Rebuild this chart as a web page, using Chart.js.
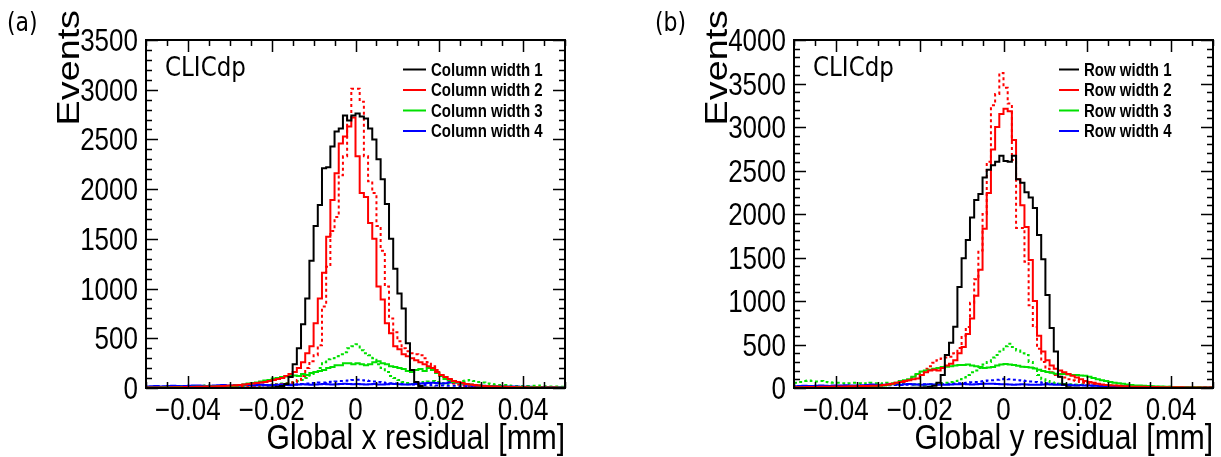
<!DOCTYPE html>
<html>
<head>
<meta charset="utf-8">
<script src="https://cdn.jsdelivr.net/npm/chart.js@4.4.1/dist/chart.umd.min.js"></script>
<style>
  html, body { margin: 0; padding: 0; background: #fff; }
  #wrap { position: relative; width: 1221px; height: 457px; overflow: hidden; }
  canvas { position: absolute; top: 0; }
  #chartA { left: 0; }
  #chartB { left: 648px; }
</style>
</head>
<body>
<div id="wrap">
  <canvas id="chartA" width="600" height="457"></canvas>
  <canvas id="chartB" width="573" height="457"></canvas>
</div>
<script>
// Histogram binning: 100 bins from -0.05 to 0.05 mm
const xMin = -0.05, xMax = 0.05, binCount = 100;

// Axis ticks
const xTickValues = [-0.04, -0.02, 0, 0.02, 0.04];
const xTickLabels = ['\u22120.04', '\u22120.02', '0', '0.02', '0.04'];
const yTicksA = [0, 500, 1000, 1500, 2000, 2500, 3000, 3500];
const yTicksB = [0, 500, 1000, 1500, 2000, 2500, 3000, 3500, 4000];

// (a) Global x residual - column widths (solid)
const colW1 = [
  0,0,0,0,0,0,0,0,0,0,
  0,0,0,0,0,0,0,0,0,0,
  0,0,0,0,0,1,1,2,3,5,
  8,12,20,40,110,240,400,640,900,1280,
  1630,1840,2210,2220,2430,2580,2610,2740,2690,2740,
  2760,2730,2710,2610,2500,2300,2100,1850,1500,1200,
  950,800,450,180,60,20,6,3,2,1,
  0,0,0,0,0,0,0,0,0,0,
  0,0,0,0,0,0,0,0,0,0,
  0,0,0,0,0,0,0,0,0,0
];
const colW2 = [
  5,5,5,5,6,6,7,8,8,9,
  10,10,12,12,14,15,16,18,20,22,
  25,28,30,35,40,45,50,55,60,70,
  80,90,100,120,140,160,200,260,350,420,
  650,900,1160,1520,1890,2160,2460,2530,2630,2720,
  2330,1960,1920,1660,1500,1020,890,650,550,420,
  390,340,320,300,280,260,240,220,200,160,
  130,110,90,70,60,50,40,35,30,25,
  20,18,15,14,12,12,10,10,8,8,
  7,6,6,5,5,5,4,4,3,3
];
const colW3 = [
  5,5,6,6,7,8,8,9,10,10,
  11,12,12,13,14,15,16,17,18,19,
  20,25,30,35,45,50,55,65,75,80,
  95,100,110,115,120,125,120,140,130,150,
  160,170,180,200,210,230,230,250,250,240,
  250,240,230,240,260,270,250,240,220,210,
  200,190,170,160,180,190,170,200,180,150,
  120,90,80,60,55,45,40,35,30,25,
  20,18,16,15,14,12,12,10,10,9,
  8,8,7,7,6,6,5,5,5,4
];
const colW4 = [
  15,18,20,16,18,20,22,20,18,20,
  22,25,24,22,20,22,25,28,30,26,
  25,28,30,32,30,28,32,35,30,28,
  30,32,35,30,28,32,35,38,35,32,
  35,38,40,38,35,38,40,42,40,38,
  40,38,35,38,40,36,34,38,42,40,
  38,36,35,38,40,45,48,50,52,50,
  45,48,55,60,55,45,35,26,25,24,
  22,20,20,18,18,16,15,15,14,13,
  12,12,11,10,10,9,9,8,8,7
];
// (a) dotted
const colW2d = [
  3,3,3,4,4,4,5,5,6,6,
  7,7,8,8,9,10,10,11,12,13,
  14,15,16,18,20,22,24,26,28,30,
  32,35,40,45,50,60,80,120,200,270,
  330,430,820,1220,1580,1720,2140,2330,2710,3010,
  3010,2880,2330,2080,1960,1630,1380,1020,700,560,
  470,400,370,350,340,330,300,260,220,180,
  130,90,60,45,35,28,22,18,15,12,
  10,10,9,8,8,7,6,6,5,5,
  4,4,4,3,3,3,2,2,2,2
];
const colW3d = [
  10,12,15,12,10,14,16,18,15,12,
  14,18,20,22,25,20,18,22,25,20,
  18,20,22,20,25,22,20,25,30,30,
  35,40,45,50,55,60,70,80,100,130,
  160,200,260,290,300,320,340,360,400,420,
  440,380,350,330,300,240,200,160,120,100,
  80,60,50,40,45,50,60,65,70,60,
  50,40,45,50,60,70,75,80,70,60,
  55,45,40,35,30,30,25,22,20,20,
  18,20,22,25,20,18,16,15,14,12
];
const colW4d = [
  10,10,12,10,12,14,12,14,15,14,
  15,16,18,16,18,20,18,20,22,20,
  22,24,22,25,24,26,25,28,26,28,
  30,28,32,30,34,36,38,40,45,50,
  50,55,55,60,62,65,70,72,75,80,
  82,78,75,70,65,60,55,50,48,45,
  42,40,38,35,34,32,30,30,28,26,
  25,24,22,22,20,20,18,18,16,16,
  15,14,14,13,12,12,11,10,10,10,
  9,9,8,8,8,7,7,6,6,6
];

// (b) Global y residual - row widths (solid)
const rowW1 = [
  0,0,0,0,0,0,0,0,0,0,
  0,0,0,0,0,0,0,0,0,0,
  0,0,0,0,0,0,0,0,2,3,
  5,8,12,25,60,150,380,520,705,1160,
  1490,1700,1960,2160,2230,2420,2510,2560,2600,2670,
  2610,2600,2670,2400,2360,2250,2190,2070,1760,1480,
  1070,690,420,130,40,10,3,2,1,0,
  0,0,0,0,0,0,0,0,0,0,
  0,0,0,0,0,0,0,0,0,0,
  0,0,0,0,0,0,0,0,0,0
];
const rowW2 = [
  10,10,10,12,12,12,14,14,15,16,
  16,18,18,20,20,22,22,24,25,26,
  30,35,40,50,60,70,80,90,100,110,
  150,180,200,210,200,230,260,280,320,400,
  470,620,800,1060,1360,1830,2240,2740,3000,3150,
  3210,3180,2850,2400,2100,1850,1470,1000,600,420,
  320,260,220,200,180,160,140,120,100,80,
  70,60,50,40,35,30,30,25,20,20,
  15,15,14,13,12,12,11,10,10,9,
  9,8,8,7,7,6,6,6,5,5
];
const rowW3 = [
  5,5,6,6,7,7,8,8,9,10,
  10,11,12,13,14,15,16,18,20,22,
  25,30,35,45,60,80,90,100,130,160,
  190,200,210,220,230,240,245,250,260,265,
  265,270,260,250,240,230,235,240,260,270,
  275,270,265,255,245,240,235,225,210,195,
  185,175,165,160,160,155,150,150,145,140,
  130,115,100,90,80,70,60,55,50,40,
  35,30,28,25,22,20,18,16,15,14,
  12,12,10,10,9,8,8,7,6,6
];
const rowW4 = [
  20,22,25,24,22,25,28,26,24,28,
  30,28,32,30,28,30,32,35,40,38,
  35,38,40,42,40,38,42,45,42,40,
  38,40,42,40,38,36,38,40,42,44,
  45,42,40,44,46,48,50,48,46,44,
  42,40,38,40,42,40,38,36,38,40,
  42,40,38,36,35,34,32,30,32,30,
  28,26,25,24,22,20,20,18,18,16,
  15,15,14,13,12,12,11,10,10,10,
  9,9,8,8,8,7,7,6,6,6
];
// (b) dotted
const rowW2d = [
  8,8,9,9,10,10,11,12,12,13,
  14,15,16,17,18,20,22,24,26,28,
  30,35,40,45,50,60,70,90,120,150,
  180,220,250,290,320,340,350,360,400,460,
  600,700,980,1250,1580,2000,2600,3250,3380,3620,
  3450,3270,2620,1840,1840,1450,950,700,450,300,
  220,180,150,130,120,100,90,80,70,60,
  50,45,40,35,30,28,25,22,20,18,
  16,15,14,13,12,11,10,10,9,9,
  8,8,7,7,6,6,5,5,5,5
];
const rowW3d = [
  60,70,80,85,80,75,80,70,65,60,
  60,55,50,55,60,55,50,55,60,55,
  50,55,60,55,50,45,50,45,40,45,
  40,35,40,45,50,55,60,70,80,100,
  120,150,180,200,230,270,300,350,380,420,
  480,510,470,430,400,380,300,230,150,100,
  80,65,55,50,45,42,40,38,40,38,
  35,33,30,32,30,28,26,25,24,22,
  20,20,18,18,16,16,15,14,14,13,
  12,12,11,11,10,10,10,9,9,9
];
const rowW4d = [
  10,10,12,12,14,14,15,16,18,18,
  20,20,22,22,24,25,26,28,28,30,
  30,32,32,34,34,35,36,38,38,40,
  40,42,42,44,45,46,48,50,52,55,
  58,60,65,70,75,80,85,90,95,100,
  105,100,95,90,85,80,75,70,65,60,
  55,50,48,45,42,40,38,36,34,32,
  30,28,26,25,24,22,20,20,18,18,
  16,16,15,14,14,13,12,12,11,10,
  10,10,9,9,8,8,8,7,7,6
];

const colLabels = ['Column width 1', 'Column width 2', 'Column width 3', 'Column width 4'];
const rowLabels = ['Row width 1', 'Row width 2', 'Row width 3', 'Row width 4'];
const colors = ['#000000', '#ff0000', '#00e000', '#0000ff'];

// frame geometry inside each canvas
const frameLeft = 146, frameRight = 565, frameTop = 40, frameBottom = 388;
// the original figure is a bit taller than wide, so text is stretched vertically
const textStretch = 1.18;
const helv = '"Liberation Sans", Arial, sans-serif';

const binWidth = (xMax - xMin) / binCount;

// turn bin contents into step points at the bin edges
function histPoints(values) {
  const pts = values.map((v, i) => ({ x: xMin + i * binWidth, y: v }));
  pts.push({ x: xMax, y: values[values.length - 1] });
  return pts;
}

function histDataset(label, values, color, dotted) {
  return {
    label: label,
    data: histPoints(values),
    borderColor: color,
    backgroundColor: color,
    borderWidth: 2,
    borderDash: dotted ? [3, 3] : [],
    stepped: true,
    pointRadius: 0,
    fill: false,
    tension: 0
  };
}

function stretchedText(ctx, text, x, y) {
  ctx.save();
  ctx.translate(x, y);
  ctx.scale(1, textStretch);
  ctx.fillText(text, 0, 0);
  ctx.restore();
}

// ROOT style frame, inner ticks, labels, titles and legend
const rootFrame = {
  id: 'rootFrame',
  afterDraw(chart, args, opts) {
    const ctx = chart.ctx;
    const area = chart.chartArea;
    const xs = chart.scales.x, ys = chart.scales.y;
    ctx.save();
    ctx.strokeStyle = '#000';
    ctx.lineWidth = 1.5;

    // x ticks (bottom and top)
    for (let v = -0.05; v <= 0.0501; v += 0.005) {
      const major = xTickValues.some(t => Math.abs(t - v) < 1e-6);
      const len = major ? 12 : 6;
      const px = Math.round(xs.getPixelForValue(v)) + 0.5;
      ctx.beginPath();
      ctx.moveTo(px, area.bottom); ctx.lineTo(px, area.bottom - len);
      ctx.moveTo(px, area.top); ctx.lineTo(px, area.top + len);
      ctx.stroke();
    }
    // y ticks (left and right)
    for (let v = 0; v <= ys.max + 1; v += 100) {
      const major = v % 500 === 0;
      const len = major ? 12 : 6;
      const py = Math.round(ys.getPixelForValue(v)) + 0.5;
      ctx.beginPath();
      ctx.moveTo(area.left, py); ctx.lineTo(area.left + len, py);
      ctx.moveTo(area.right, py); ctx.lineTo(area.right - len, py);
      ctx.stroke();
    }
    // frame
    ctx.lineWidth = 2;
    ctx.strokeRect(area.left, area.top, area.right - area.left, area.bottom - area.top);

    ctx.fillStyle = '#000';
    ctx.textBaseline = 'alphabetic';

    // tick labels
    ctx.font = '26px ' + helv;
    ctx.textAlign = 'center';
    xs.ticks.forEach((t, i) => stretchedText(ctx, xTickLabels[i], xs.getPixelForValue(t.value), 420));
    ctx.textAlign = 'right';
    ys.ticks.forEach(t => stretchedText(ctx, String(t.value), area.left - 8, ys.getPixelForValue(t.value) + 11));

    // axis titles
    ctx.font = '30px ' + helv;
    ctx.textAlign = 'right';
    stretchedText(ctx, opts.xTitle, area.right, 449);
    ctx.save();
    ctx.font = '32px ' + helv;
    ctx.translate(79, 10);
    ctx.rotate(-Math.PI / 2);
    ctx.scale(textStretch, 1);
    ctx.textAlign = 'right';
    ctx.fillText('Events', 0, 0);
    ctx.restore();

    // panel tag and experiment label
    ctx.textAlign = 'left';
    ctx.font = '22px "DejaVu Sans", sans-serif';
    stretchedText(ctx, opts.tag, 7, 31);
    ctx.font = '23px "DejaVu Sans", sans-serif';
    stretchedText(ctx, 'CLICdp', 165, 76);

    // legend from the solid datasets
    ctx.font = 'bold 15px ' + helv;
    const rows = [69.5, 90, 110.5, 131];
    for (let i = 0; i < 4; i++) {
      const dsi = chart.data.datasets[i];
      ctx.strokeStyle = dsi.borderColor;
      ctx.lineWidth = 2;
      ctx.beginPath();
      ctx.moveTo(opts.legendX0, rows[i]);
      ctx.lineTo(opts.legendX1, rows[i]);
      ctx.stroke();
      ctx.fillStyle = '#000';
      stretchedText(ctx, dsi.label, opts.legendText, rows[i] + 6);
    }
    ctx.restore();
  }
};

function makeChart(canvasId, labels, solids, dotted, yTicks, frameOpts) {
  const canvas = document.getElementById(canvasId);
  const datasets = [];
  for (let i = 0; i < 4; i++) datasets.push(histDataset(labels[i], solids[i], colors[i], false));
  for (let i = 0; i < 3; i++) datasets.push(histDataset(labels[i + 1] + ' (dotted)', dotted[i], colors[i + 1], true));

  return new Chart(canvas, {
    type: 'line',
    data: { datasets: datasets },
    options: {
      responsive: false,
      animation: false,
      layout: { padding: { top: frameTop, right: canvas.width - frameRight, left: 0, bottom: 0 } },
      plugins: {
        legend: { display: false },
        tooltip: { enabled: false },
        rootFrame: frameOpts
      },
      scales: {
        x: {
          type: 'linear',
          min: xMin,
          max: xMax,
          grid: { display: false, drawTicks: false },
          border: { display: false },
          afterBuildTicks: s => { s.ticks = xTickValues.map(v => ({ value: v })); },
          afterFit: s => { s.height = 457 - frameBottom; },
          ticks: { display: false }
        },
        y: {
          type: 'linear',
          min: 0,
          max: yTicks[yTicks.length - 1],
          grid: { display: false, drawTicks: false },
          border: { display: false },
          afterBuildTicks: s => { s.ticks = yTicks.map(v => ({ value: v })); },
          afterFit: s => { s.width = frameLeft; },
          ticks: { display: false }
        }
      }
    },
    plugins: [rootFrame]
  });
}

makeChart('chartA', colLabels, [colW1, colW2, colW3, colW4], [colW2d, colW3d, colW4d], yTicksA,
  { tag: '(a)', xTitle: 'Global x residual [mm]', legendX0: 403, legendX1: 426, legendText: 431 });
makeChart('chartB', rowLabels, [rowW1, rowW2, rowW3, rowW4], [rowW2d, rowW3d, rowW4d], yTicksB,
  { tag: '(b)', xTitle: 'Global y residual [mm]', legendX0: 411, legendX1: 431, legendText: 436 });
</script>
</body>
</html>
